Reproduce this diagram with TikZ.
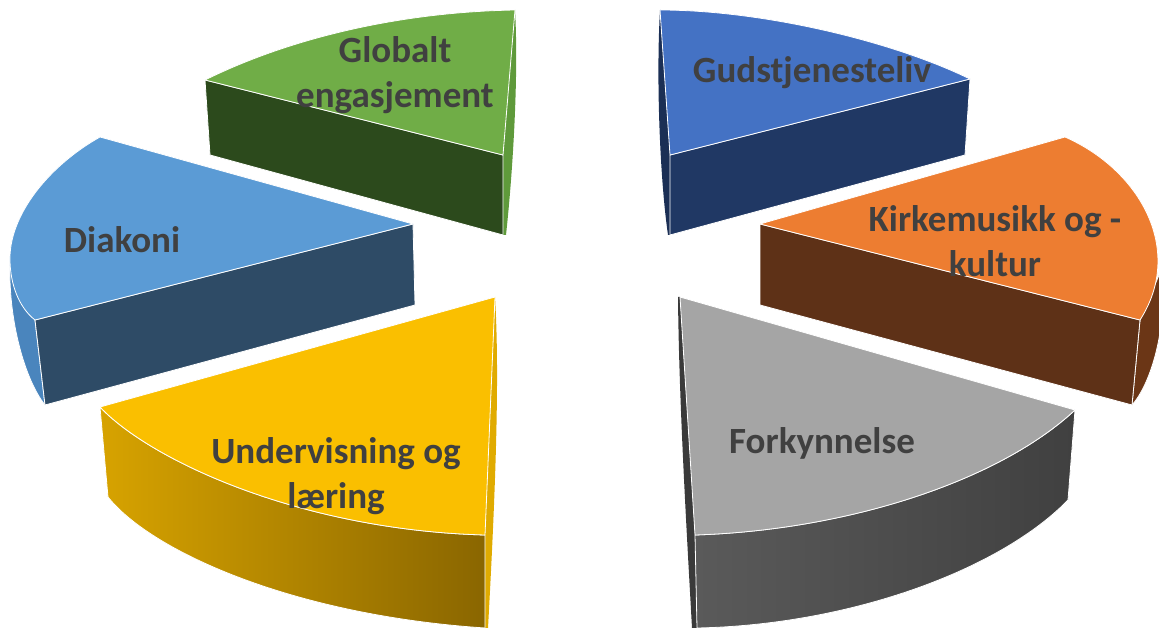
\documentclass[tikz,border=0pt]{standalone}
\usepackage{fontspec}
\setmainfont{Carlito}
\definecolor{txt}{HTML}{404040}
\definecolor{gtop}{HTML}{70AD47}
\definecolor{gside}{HTML}{2C4A1C}
\definecolor{gsliver}{HTML}{5F9A3B}
\definecolor{btop}{HTML}{4472C4}
\definecolor{bside}{HTML}{203864}
\definecolor{bsliver}{HTML}{1B2F55}
\definecolor{dtop}{HTML}{5B9BD5}
\definecolor{dside}{HTML}{2E4B66}
\definecolor{dsliver}{HTML}{4A85BD}
\definecolor{otop}{HTML}{ED7D31}
\definecolor{oside}{HTML}{5E3117}
\definecolor{osliver}{HTML}{6B3616}
\definecolor{ytop}{HTML}{FABF00}
\definecolor{ysideL}{HTML}{D7A300}
\definecolor{ysideR}{HTML}{8A6600}
\definecolor{ysliver}{HTML}{E0AB00}
\definecolor{ktop}{HTML}{A5A5A5}
\definecolor{ksideL}{HTML}{5A5A5A}
\definecolor{ksideR}{HTML}{404040}
\definecolor{ksliver}{HTML}{3A3A3A}
\begin{document}
\begin{tikzpicture}[x=1pt,y=-1pt,
  face/.style={draw=white,line width=0.8pt,line join=round},
  lbl/.style={font=\fontsize{37}{45}\selectfont\bfseries,text=txt,align=center,inner sep=0pt}]
\useasboundingbox (0,0) rectangle (1159,628);

% ---- Globalt engasjement (green)
\coordinate (gA) at (503,155);
\coordinate (gL) at (205,80);
\coordinate (gT) at (515,10);
\fill[gsliver] (gT) .. controls (519,80) and (512,180) .. (506,235) -- (503,235) -- (gA) -- cycle;
\path[face,fill=gside] (gL) -- (gA) -- (503,235) -- (210,155) -- cycle;
\path[face,fill=gtop] (gL) -- (gA) -- (gT) .. controls (400,12) and (290,38) .. (gL) -- cycle;

% ---- Gudstjenesteliv (blue)
\coordinate (bA) at (670,155);
\coordinate (bT) at (660,10);
\coordinate (bR) at (970,79);
\fill[bsliver] (bT) .. controls (656,80) and (660,180) .. (668,235) -- (670,235) -- (bA) -- cycle;
\path[face,fill=bside] (bA) -- (bR) -- (965,155) -- (670,235) -- cycle;
\path[face,fill=btop] (bA) -- (bT) .. controls (760,10) and (890,40) .. (bR) -- cycle;

% ---- Diakoni (light blue)
\coordinate (dA) at (413,224);
\coordinate (dT) at (100,137);
\coordinate (dB) at (35,320);
\path[face,fill=dsliver] (10,262) .. controls (8,320) and (25,380) .. (45,405) -- (dB) -- cycle;
\path[face,fill=dside] (dB) -- (dA) -- (415,305) -- (45,405) -- cycle;
\path[face,fill=dtop] (dA) -- (dT) .. controls (50,165) and (8,215) .. (10,262)
   .. controls (11,290) and (22,310) .. (dB) -- cycle;

% ---- Kirkemusikk og - kultur (orange)
\coordinate (oA) at (760,224);
\coordinate (oT) at (1065,137);
\coordinate (oB) at (1140,320);
\path[face,fill=osliver] (oB) -- (1132,405) .. controls (1150,385) and (1168,330) .. (1162,268) -- cycle;
\path[face,fill=oside] (oA) -- (oB) -- (1132,405) -- (760,305) -- cycle;
\path[face,fill=otop] (oA) -- (oT) .. controls (1140,170) and (1185,250) .. (oB) -- cycle;

% ---- Undervisning og laering (yellow)
\coordinate (yA) at (495,297);
\coordinate (yL) at (100,407);
\coordinate (yB) at (485,535);
\fill[ysliver] (yA) .. controls (500,380) and (495,500) .. (488,628) -- (485,628) -- (yB) -- cycle;
\path[face,left color=ysideL,right color=ysideR] (yL) .. controls (150,460) and (300,530) .. (yB)
   -- (485,628) .. controls (290,615) and (150,550) .. (108,497) -- cycle;
\path[face,fill=ytop] (yA) -- (yL) .. controls (150,460) and (300,530) .. (yB) -- cycle;

% ---- Forkynnelse (grey)
\coordinate (kA) at (680,297);
\coordinate (kB) at (695,535);
\coordinate (kR) at (1075,410);
\fill[ksliver] (678,297) .. controls (679,400) and (686,520) .. (692,628) -- (697,628) -- (kB) -- (kA) -- cycle;
\path[face,left color=ksideL,right color=ksideR] (kB) .. controls (850,530) and (1000,480) .. (kR)
   -- (1068,500) .. controls (1000,570) and (850,625) .. (697,628) -- cycle;
\path[face,fill=ktop] (kA) -- (kB) .. controls (850,530) and (1000,480) .. (kR) -- cycle;

% ---- labels
\node[lbl] (t1) at (395,75) {Globalt\\engasjement};
\node[lbl] (t2) at (812,73) {Gudstjenesteliv};
\node[lbl] (t3) at (995,241) {Kirkemusikk og -\\kultur};
\node[lbl] (t4) at (122,240) {Diakoni};
\node[lbl] (t5) at (336,476) {Undervisning og\\læring};
\node[lbl] (t6) at (822,443) {Forkynnelse};
\end{tikzpicture}
\end{document}
